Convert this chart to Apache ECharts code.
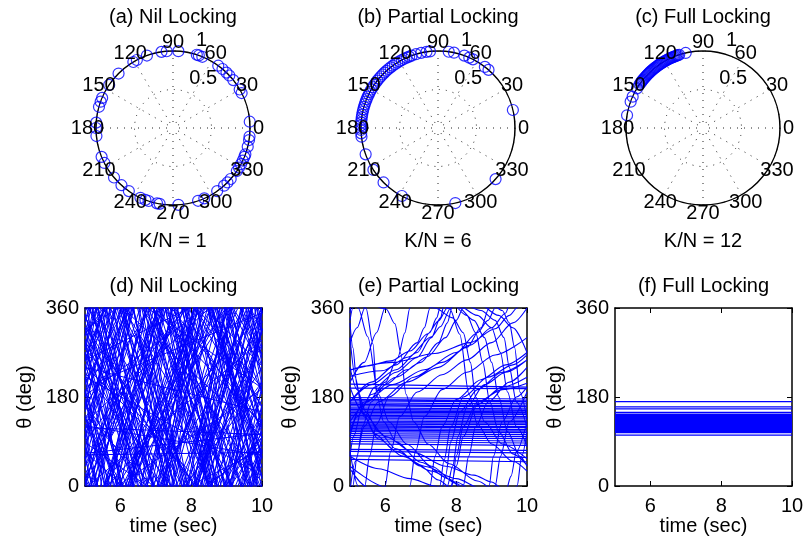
<!DOCTYPE html>
<html>
<head>
<meta charset="utf-8">
<script src="https://cdn.jsdelivr.net/npm/echarts@6/dist/echarts.min.js"></script>
<style>
html, body { margin: 0; padding: 0; background: #fff; }
#main { width: 807px; height: 541px; }
</style>
</head>
<body>
<div id="main"></div>
<script>
// phases on the unit circle (deg)
var nilPhase = [4.7, 27, 30, 38.5, 43, 46, 50, 54, 67.6, 70.4, 72, 86, 94.7, 98.6, 109.8, 118, 121, 135, 146, 157, 160, 164,
    176, 180, 186, 202, 207, 220, 228, 235, 245, 249, 251.5, 258, 260, 274, 289, 294, 305, 311.5, 315, 318.5, 326, 329,
    332, 335, 338, 340, 346, 351, 353.6];
var partialPhase = [13.5, 49, 52.5, 63, 66, 70, 78, 82, 96, 98.6, 102.6, 106.6, 110, 112, 114, 116, 118, 120, 122, 124,
    126, 128, 130, 132, 134, 136, 138, 140, 142, 144, 146, 148, 150, 152, 154, 156, 158, 160, 162, 164, 166, 168, 170,
    172, 174, 176, 178, 180, 181.5, 184, 186.5, 200, 213, 225, 242, 283, 318.4];
// full locking: same phases in (c) and (f)
var fullPhase = [103, 108, 109, 110, 111, 112, 113, 114, 115, 116, 117, 118, 119, 120, 121, 122, 123, 124, 125, 126,
    127, 128, 129, 130, 131, 132, 133, 134, 135, 136, 137, 138, 139, 140, 141, 142, 143, 144, 145.5, 149, 156, 160, 170.5];

var topTitles = ['(a) Nil Locking', '(b) Partial Locking', '(c) Full Locking'];
var bottomTitles = ['(d) Nil Locking', '(e) Partial Locking', '(f) Full Locking'];
var kLabels = ['K/N = 1', 'K/N = 6', 'K/N = 12'];
var angleTicks = [0, 30, 60, 90, 120, 150, 180, 210, 240, 270, 300, 330];
var radiusTicks = ['0.5', '1'];
var timeTicks = [6, 8, 10];
var thetaTicks = [0, 180, 360];

// (d) theta at t=5 and unwrapped theta at t=10
var nilStart = [12, 35, 48, 63, 77, 90, 104, 118, 131, 145, 158, 170, 183, 196, 208, 221, 233, 246, 259, 271, 284, 297,
    309, 322, 335, 348, 5, 27, 55, 70, 98, 125, 150, 176, 200, 226, 252, 278, 303, 330, 355, 20, 42, 84, 112, 138, 164,
    190, 215, 240, 265, 290, 316, 342, 8, 60, 95, 140, 188, 230, 275, 320,
    3, 17, 40, 58, 73, 88, 100, 115, 128, 142, 155, 167, 180, 193, 205, 218, 230, 243, 256, 268, 281, 294, 306, 319,
    332, 345, 358, 66, 122, 254];
var nilEnd = [832, -605, 1398, 68, -1043, 570, -1596, 104, 1081, -235, 1758, -730, 443, -1254, 928, 21, 2133, -804, 819,
    -489, 1534, -1553, 709, -198, 1435, -952, 645, -973, 2155, -260, 1598, -455, 1030, -1424, 350, -1024, 1272, -162,
    2003, -530, 655, -1880, 802, -1066, 1512, -562, 684, -1810, 1395, 150, 1125, -1110, 556, -278, 1758, -1490, 1085,
    -1060, 868, -240, 1575, -660,
    1153, -813, 600, -1322, 1793, -162, 1140, -1485, 458, -838, 1605, -353, 2230, -957, 895, -1582, 1430, -117, 1156,
    -982, 1901, -406, 826, -1181, 1212, -655, 1658, 106, 62, 434];

// (e) locked oscillators: theta at t=5 and t=10
var lockStart = [206, 198, 179, 175, 172, 168, 165, 162, 158, 155, 152, 149, 146, 143, 140, 137, 134, 131, 128, 125,
    122, 119, 116, 113, 110, 106, 102, 98, 94, 90, 85, 74, 70, 61, 54];
var lockEnd = [200, 197, 176, 172, 170, 166, 162, 160, 156, 153, 150, 148, 145, 141, 139, 136, 133, 130, 127, 124,
    120, 118, 114, 111, 108, 104, 100, 96, 91, 87, 82, 72, 67, 58, 49];

// (e) drifting oscillators, [t, unwrapped theta]
var driftCurves = [
    [[5,234],[5.5,243],[6.15,253],[6.7,273],[7.2,308],[7.5,334],[7.75,360],[7.9,400],[8.05,460],[8.3,520],[8.8,565],[9.4,590],[10,615]],
    [[5,222],[5.9,233],[6.65,261],[7.3,302],[7.55,322],[7.85,360],[8.0,400],[8.2,460],[8.6,525],[9.3,560],[10,580]],
    [[5,-25],[5.08,0],[5.2,60],[5.35,120],[5.6,170],[6.0,205],[6.6,235],[7.2,262],[7.7,300],[8.0,335],[8.2,360],[8.35,420],[8.55,480],[8.9,530],[9.5,570],[10,600]],
    [[5,-70],[5.2,-40],[5.42,0],[5.55,60],[5.75,125],[6.1,180],[6.8,220],[7.6,250],[8.4,285],[9.0,320],[9.4,350],[9.55,380],[9.7,430],[10,490]],
    [[5,-150],[5.4,-110],[5.75,-50],[5.99,0],[6.15,70],[6.4,140],[6.9,190],[7.6,225],[8.3,255],[9.0,290],[9.6,330],[10,360]],
    [[5,-230],[5.5,-190],[6.0,-150],[6.35,-100],[6.55,-50],[6.69,0],[6.85,70],[7.1,140],[7.6,195],[8.3,230],[9.1,265],[10,300]],
    [[5,-190],[5.6,-150],[6.3,-115],[6.9,-70],[7.1,-40],[7.26,0],[7.4,60],[7.6,120],[8.0,175],[8.7,215],[9.4,245],[10,270]],
    [[5,170],[5.6,205],[6.3,235],[6.9,270],[7.25,310],[7.45,340],[7.54,360],[7.65,410],[7.85,480],[8.2,540],[8.9,580],[9.6,605],[10,625]],
    [[5,100],[5.2,140],[5.6,185],[6.3,220],[7.0,250],[7.5,290],[7.75,330],[7.88,360],[8.0,420],[8.2,480],[8.6,530],[9.3,555],[10,568]],
    [[5,-10],[5.15,50],[5.4,120],[5.8,170],[6.6,210],[7.5,240],[8.3,280],[8.7,320],[8.93,360],[9.05,420],[9.3,490],[9.7,540],[10,560]],
    [[5,110],[5.4,170],[6.2,205],[7.1,235],[8.0,270],[8.6,310],[8.9,335],[9.1,360],[9.25,420],[9.5,490],[10,550]],
    [[5,235],[6.2,250],[7.4,268],[8.4,290],[9.1,318],[9.5,345],[9.72,360],[9.85,420],[10,470]],
    [[5,-300],[5.1,-260],[5.35,-200],[5.7,-160],[6.3,-130],[6.9,-100],[7.3,-60],[7.55,-20],[7.7,20],[7.85,90],[8.1,150],[8.6,195],[9.3,230],[10,255]],
    [[5,430],[5.23,360],[5.5,302],[5.8,186],[6.1,130],[6.6,85],[7.3,40],[8.0,5],[8.5,-25],[8.8,-60],[9.0,-110],[9.2,-180],[9.45,-250],[9.8,-300],[10,-320]],
    [[5,395],[5.45,360],[5.65,287],[5.75,186],[5.95,130],[6.3,90],[7.0,48],[7.8,14],[8.3,-15],[8.55,-50],[8.75,-110],[8.95,-190],[9.2,-250],[9.6,-295],[10,-318]],
    [[5,400],[6.02,358],[6.27,328],[6.44,267],[6.58,186],[6.8,130],[7.2,85],[7.8,45],[8.6,10],[9.2,-15],[9.6,-40],[10,-90]],
    [[5,240],[5.2,195],[5.45,150],[5.8,110],[6.3,75],[7.0,40],[7.5,12],[7.82,-2],[8.1,-53],[8.36,-174],[8.6,-235],[9.0,-275],[9.6,-310],[10,-330]],
    [[5,200],[5.4,145],[6.0,100],[6.8,68],[7.7,40],[8.5,22],[9.0,8],[9.3,-5],[9.5,-30],[9.65,-80],[9.8,-170],[10,-225]],
    [[5,300],[5.15,220],[5.35,150],[5.7,105],[6.3,70],[7.1,40],[8.0,15],[8.7,-5],[9.1,-25],[9.35,-60],[9.5,-120],[9.7,-190],[10,-240]],
    [[5,60],[5.8,35],[6.7,15],[7.4,0],[7.9,-20],[8.2,-50],[8.4,-110],[8.55,-180],[8.8,-230],[9.3,-275],[10,-305]],
    [[5,330],[5.08,280],[5.2,200],[5.4,140],[5.8,95],[6.5,60],[7.3,30],[8.0,8],[8.6,-15],[9.0,-40],[9.25,-90],[9.45,-170],[9.7,-240],[10,-280]]
];

var FONT = '"Liberation Sans", Arial, Helvetica, sans-serif';
var BLUE = '#0000ff';
var GAP = ['-', '-'];
var cx = [173, 438, 703];
var gridLeft = [85, 350, 615];

// copies of a curve shifted by whole turns so that wrapped parts show in [0, 360]
function wrapped(points) {
    var lo = Infinity, hi = -Infinity;
    points.forEach(function (p) { lo = Math.min(lo, p[1]); hi = Math.max(hi, p[1]); });
    var out = [];
    for (var m = Math.floor(lo / 360) - 1; m <= Math.ceil(hi / 360) + 1; m++) {
        if (lo - 360 * m < 360 && hi - 360 * m > 0) {
            points.forEach(function (p) { out.push([p[0], p[1] - 360 * m]); });
            out.push(GAP);
        }
    }
    return out;
}

var nilData = [];
nilStart.forEach(function (s, i) { nilData = nilData.concat(wrapped([[5, s], [10, nilEnd[i]]])); });
var lockData = [];
lockStart.forEach(function (s, i) { lockData.push([5, s], [10, lockEnd[i]], GAP); });
var driftData = [];
driftCurves.forEach(function (c) { driftData = driftData.concat(wrapped(c)); });
var fullData = [];
fullPhase.forEach(function (th) { fullData.push([5, th], [10, th], GAP); });

var phases = [nilPhase, partialPhase, fullPhase];
var labelFont = { color: '#000', fontSize: 20, fontFamily: FONT };
var pointLabel = { show: true, position: 'inside', color: '#000', opacity: 1, fontSize: 20, fontFamily: FONT,
    textBorderWidth: 0, textShadowBlur: 0 };

var polar = [], angleAxis = [], radiusAxis = [], grid = [], xAxis = [], yAxis = [], series = [], graphic = [];

for (var i = 0; i < 3; i++) {
    polar.push({ center: [cx[i], 128], radius: 77 });
    angleAxis.push({
        polarIndex: i, type: 'value', min: 0, max: 360, interval: 30, startAngle: 0, clockwise: false,
        axisLine: { lineStyle: { color: '#000', width: 1.5 } },
        axisTick: { show: false }, axisLabel: { show: false },
        splitLine: { show: true, lineStyle: { color: '#222', width: 1, type: [1, 6] } }
    });
    radiusAxis.push({
        polarIndex: i, type: 'value', min: 0, max: 1, interval: 0.5,
        axisLine: { show: false }, axisTick: { show: false }, axisLabel: { show: false },
        splitLine: { show: true, lineStyle: { color: '#222', width: 1, type: [1, 6] } }
    });
    series.push({
        type: 'scatter', coordinateSystem: 'polar', polarIndex: i, silent: true, clip: false,
        symbol: 'circle', symbolSize: 11,
        itemStyle: { color: 'rgba(0,0,0,0)', borderColor: BLUE, borderWidth: 1.2 },
        data: phases[i].map(function (a) { return [1, a]; })
    });
    // angle tick labels
    series.push({
        type: 'scatter', coordinateSystem: 'polar', polarIndex: i, silent: true, clip: false,
        symbolSize: 1, itemStyle: { color: 'rgba(0,0,0,0)' },
        label: Object.assign({ formatter: function (p) { return String(p.value[1]); } }, pointLabel),
        data: angleTicks.map(function (a) { return [1.11, a]; })
    });
    // radius tick labels
    series.push({
        type: 'scatter', coordinateSystem: 'polar', polarIndex: i, silent: true, clip: false,
        symbolSize: 1, itemStyle: { color: 'rgba(0,0,0,0)' },
        label: Object.assign({ formatter: '{b}' }, pointLabel),
        data: [{ name: radiusTicks[0], value: [0.75, 58.5] }, { name: radiusTicks[1], value: [1.2, 72] }]
    });

    grid.push({ left: gridLeft[i], top: 308, width: 177, height: 178, outerBoundsMode: 'none' });
    var frame = { onZero: false, lineStyle: { color: '#000', width: 1.5 } };
    var tick = { inside: true, length: 5, lineStyle: { color: '#000', width: 1 } };
    xAxis.push({
        gridIndex: i, type: 'value', min: 5, max: 10, position: 'bottom',
        axisLine: frame, axisTick: Object.assign({ customValues: timeTicks }, tick),
        axisLabel: Object.assign({ customValues: timeTicks, margin: 10 }, labelFont),
        splitLine: { show: false },
        name: 'time (sec)', nameLocation: 'middle', nameGap: 24, nameTextStyle: labelFont
    });
    xAxis.push({
        gridIndex: i, type: 'value', min: 5, max: 10, position: 'top',
        axisLine: frame, axisTick: Object.assign({ customValues: timeTicks }, tick),
        axisLabel: { show: false }, splitLine: { show: false }
    });
    yAxis.push({
        gridIndex: i, type: 'value', min: 0, max: 360, interval: 180, position: 'left',
        axisLine: frame, axisTick: tick,
        axisLabel: Object.assign({ margin: 6 }, labelFont),
        splitLine: { show: false },
        name: 'θ (deg)', nameLocation: 'middle', nameGap: 50, nameRotate: 90, nameTextStyle: labelFont
    });
    yAxis.push({
        gridIndex: i, type: 'value', min: 0, max: 360, interval: 180, position: 'right',
        axisLine: frame, axisTick: tick, axisLabel: { show: false }, splitLine: { show: false }
    });

    graphic.push({ type: 'text', x: cx[i], y: 17, style: { text: topTitles[i], fill: '#000', font: '20px ' + FONT, align: 'center', verticalAlign: 'middle' } });
    graphic.push({ type: 'text', x: cx[i], y: 241, style: { text: kLabels[i], fill: '#000', font: '20px ' + FONT, align: 'center', verticalAlign: 'middle' } });
    graphic.push({ type: 'text', x: gridLeft[i] + 88.5, y: 286, style: { text: bottomTitles[i], fill: '#000', font: '20px ' + FONT, align: 'center', verticalAlign: 'middle' } });
}

function lineSeries(idx, data, smooth, width) {
    return {
        type: 'line', xAxisIndex: 2 * idx, yAxisIndex: 2 * idx, data: data,
        showSymbol: false, symbol: 'none', connectNulls: false, clip: true, silent: true,
        smooth: smooth ? 0.3 : false, smoothMonotone: 'x',
        lineStyle: { color: BLUE, width: width }
    };
}
series.push(lineSeries(0, nilData, false, 1));
series.push(lineSeries(1, lockData, false, 1.2));
series.push(lineSeries(1, driftData, true, 1.1));
series.push(lineSeries(2, fullData, false, 1.2));

var chart = echarts.init(document.getElementById('main'));
chart.setOption({
    animation: false,
    backgroundColor: '#fff',
    polar: polar, angleAxis: angleAxis, radiusAxis: radiusAxis,
    grid: grid, xAxis: xAxis, yAxis: yAxis,
    series: series, graphic: graphic
});
</script>
</body>
</html>
